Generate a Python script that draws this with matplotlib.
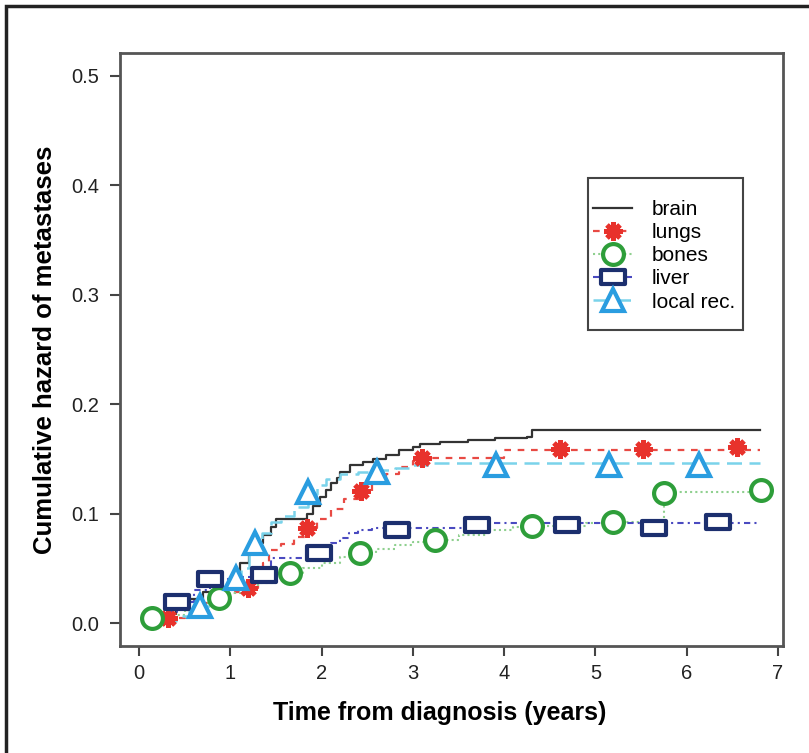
import matplotlib
matplotlib.use("Agg")
import matplotlib.pyplot as plt
from matplotlib.path import Path
from matplotlib.lines import Line2D
from matplotlib.patches import Rectangle

plt.rcParams['font.family'] = ['Liberation Sans', 'DejaVu Sans']

t_end = 6.8

# step curves (time, cumulative hazard)
brain_t = [0.05, 0.1, 0.25, 0.4, 0.55, 0.7, 0.85, 1.0, 1.05, 1.1, 1.2, 1.3, 1.36, 1.45, 1.5,
           1.84, 1.9, 1.98, 2.05, 2.1, 2.17, 2.2, 2.31, 2.45, 2.56, 2.7, 2.85, 3.0, 3.08,
           3.3, 3.6, 3.9, 4.25, 4.3]
brain_h = [0.0, 0.002, 0.008, 0.015, 0.022, 0.028, 0.033, 0.038, 0.045, 0.055, 0.065, 0.073,
           0.08, 0.088, 0.095, 0.10, 0.107, 0.115, 0.122, 0.128, 0.133, 0.138, 0.144, 0.147,
           0.150, 0.154, 0.158, 0.161, 0.164, 0.165, 0.167, 0.169, 0.170, 0.176]

lungs_t = [0.05, 0.15, 0.32, 0.5, 0.7, 0.9, 1.05, 1.19, 1.3, 1.36, 1.42, 1.55, 1.7, 1.84, 1.95,
           2.1, 2.25, 2.43, 2.55, 2.7, 2.85, 3.0, 3.1, 4.0]
lungs_h = [0.0, 0.002, 0.005, 0.012, 0.018, 0.024, 0.028, 0.032, 0.04, 0.055, 0.067, 0.072,
           0.079, 0.087, 0.095, 0.104, 0.113, 0.121, 0.128, 0.136, 0.143, 0.148, 0.151, 0.158]

bones_t = [0.05, 0.14, 0.3, 0.5, 0.7, 0.87, 1.0, 1.15, 1.3, 1.5, 1.65, 1.8, 2.0, 2.2, 2.42, 2.6,
           2.8, 3.0, 3.24, 3.5, 3.8, 4.1, 4.3, 4.9, 5.2, 5.75]
bones_h = [0.0, 0.002, 0.007, 0.013, 0.018, 0.023, 0.027, 0.032, 0.037, 0.042, 0.046, 0.05,
           0.055, 0.06, 0.064, 0.068, 0.071, 0.074, 0.076, 0.08, 0.085, 0.088, 0.089, 0.091,
           0.092, 0.12]

liver_t = [0.05, 0.1, 0.25, 0.42, 0.6, 0.78, 1.0, 1.37, 1.45, 1.97, 2.1, 2.2, 2.3, 2.4, 2.55, 3.6]
liver_h = [0.0, 0.003, 0.01, 0.019, 0.03, 0.04, 0.042, 0.044, 0.059, 0.064, 0.073, 0.078,
           0.082, 0.085, 0.087, 0.091]

local_t = [0.05, 0.2, 0.4, 0.55, 0.67, 0.8, 0.95, 1.06, 1.12, 1.2, 1.27, 1.35, 1.45, 1.55, 1.7,
           1.85, 1.95, 2.05, 2.2, 2.4, 2.61, 2.8, 3.0, 3.2]
local_h = [0.0, 0.002, 0.006, 0.011, 0.016, 0.025, 0.033, 0.041, 0.05, 0.062, 0.073, 0.082,
           0.092, 0.098, 0.106, 0.118, 0.126, 0.132, 0.136, 0.138, 0.14, 0.142, 0.144, 0.146]

# marker positions
lungs_mx = [0.32, 1.19, 1.84, 2.43, 3.10, 4.61, 5.52, 6.55]
lungs_my = [0.005, 0.032, 0.087, 0.121, 0.151, 0.159, 0.159, 0.161]
bones_mx = [0.14, 0.87, 1.65, 2.42, 3.24, 4.30, 5.19, 5.75, 6.81]
bones_my = [0.005, 0.023, 0.046, 0.064, 0.076, 0.089, 0.092, 0.119, 0.122]
liver_mx = [0.42, 0.78, 1.37, 1.97, 2.83, 3.70, 4.69, 5.64, 6.34]
liver_my = [0.019, 0.040, 0.044, 0.064, 0.085, 0.090, 0.090, 0.087, 0.092]
local_mx = [0.67, 1.06, 1.27, 1.85, 2.61, 3.91, 5.15, 6.14]
local_my = [0.016, 0.041, 0.073, 0.120, 0.138, 0.144, 0.144, 0.144]

c_brain = '#333333'
c_lungs = '#e8322c'
c_lungs_line = '#e84a44'
c_bones = '#2e9e3a'
c_bones_line = '#8fd08f'
c_liver = '#1c2f6e'
c_liver_line = '#4a4ac0'
c_local = '#2a9de0'
c_local_line = '#7ad3ea'

rect = Path([(-1, -0.62), (1, -0.62), (1, 0.62), (-1, 0.62), (-1, -0.62)],
            [Path.MOVETO, Path.LINETO, Path.LINETO, Path.LINETO, Path.CLOSEPOLY])
star = (8, 2, 0)

fig = plt.figure(figsize=(8.09, 7.53), dpi=100)
ax = fig.add_axes([120/809, 1-646/753, 663/809, 593/753])

fig.patches.append(Rectangle((6/809, -0.1), 2, 1.1 - 6/753, transform=fig.transFigure,
                             fill=False, edgecolor='#222222', linewidth=2.5))


def ext(t, h):
    return list(t) + [t_end], list(h) + [h[-1]]


x, y = ext(brain_t, brain_h)
ax.plot(x, y, drawstyle='steps-post', color=c_brain, lw=1.6)
x, y = ext(lungs_t, lungs_h)
ax.plot(x, y, drawstyle='steps-post', color=c_lungs_line, lw=1.6, dashes=(3, 3))
x, y = ext(bones_t, bones_h)
ax.plot(x, y, drawstyle='steps-post', color=c_bones_line, lw=1.5, dashes=(1, 1.5))
x, y = ext(liver_t, liver_h)
ax.plot(x, y, drawstyle='steps-post', color=c_liver_line, lw=1.5, dashes=(3, 2, 1, 2))
x, y = ext(local_t, local_h)
ax.plot(x, y, drawstyle='steps-post', color=c_local_line, lw=1.8, dashes=(6, 3))

mk = dict(ls='none', zorder=4)
ax.plot(lungs_mx, lungs_my, marker=star, ms=13, mew=3.5, color=c_lungs, mec=c_lungs, **mk)
ax.plot(bones_mx, bones_my, marker='o', ms=15, mew=3, mfc='white', mec=c_bones, **mk)
ax.plot(liver_mx, liver_my, marker=rect, ms=17, mew=3, mfc='white', mec=c_liver, **mk)
ax.plot(local_mx, local_my, marker='^', ms=16, mew=3, mfc='white', mec=c_local, **mk)

ax.set_xlim(-0.21, 7.055)
ax.set_ylim(-0.021, 0.521)
ax.set_xticks(range(0, 8))
ax.set_yticks([0.0, 0.1, 0.2, 0.3, 0.4, 0.5])
ax.set_yticklabels(['0.0', '0.1', '0.2', '0.3', '0.4', '0.5'])
ax.tick_params(axis='both', labelsize=14.5, length=7, width=1.5, color='#444444',
               direction='out', labelcolor='#222222')
ax.tick_params(axis='x', pad=6)
ax.tick_params(axis='y', pad=8)
for s in ax.spines.values():
    s.set_color('#555555')
    s.set_linewidth(2)

ax.set_xlabel('Time from diagnosis (years)', fontsize=18, fontweight='bold')
ax.set_ylabel('Cumulative hazard of metastases', fontsize=18.5, fontweight='bold')
ax.xaxis.set_label_coords((440-120)/663, -(701-646)/593)
ax.yaxis.set_label_coords(-(120-57)/663, 0.5)

handles = [
    Line2D([], [], color=c_brain, lw=1.6),
    Line2D([], [], color=c_lungs_line, lw=1.6, dashes=(3, 3), marker=star, ms=13, mew=3.5,
           mec=c_lungs, mfc=c_lungs),
    Line2D([], [], color=c_bones_line, lw=1.5, dashes=(1, 1.5), marker='o', ms=15, mew=3,
           mec=c_bones, mfc='white'),
    Line2D([], [], color=c_liver_line, lw=1.5, dashes=(3, 2, 1, 2), marker=rect, ms=17, mew=3,
           mec=c_liver, mfc='white'),
    Line2D([], [], color=c_local_line, lw=1.8, dashes=(6, 3), marker='^', ms=16, mew=3,
           mec=c_local, mfc='white'),
]
labels = ['brain', 'lungs', 'bones', 'liver', 'local rec.']
leg = ax.legend(handles, labels, loc='upper left', bbox_to_anchor=(593/809, 1-200/753),
                bbox_transform=fig.transFigure, fontsize=15, handlelength=1.875,
                labelspacing=0.2, borderpad=0, handletextpad=0.95, borderaxespad=0,
                frameon=False, numpoints=1)
leg.set_zorder(6)
ax.add_patch(Rectangle((588/809, 1-330/753), 155/809, 152/753, transform=fig.transFigure,
                       facecolor='white', edgecolor='#444444', linewidth=1.5, zorder=5))

fig.savefig('out.png', dpi=100)
